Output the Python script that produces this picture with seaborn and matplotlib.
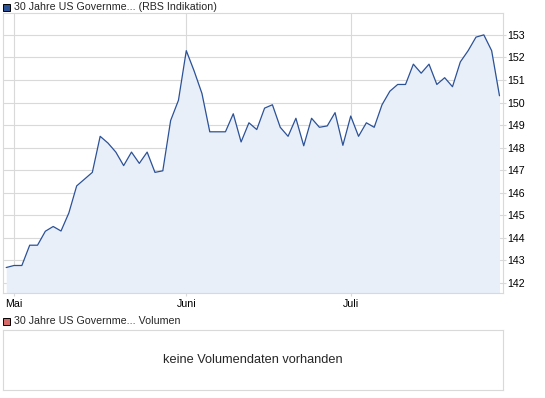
import numpy as np
import pandas as pd
import matplotlib
matplotlib.use("Agg")
import matplotlib.pyplot as plt
from matplotlib.patches import Rectangle
import seaborn as sns

# daily prices, 30 Jahre US Government (RBS Indikation), end of April to end of July
prices = [142.68, 142.77, 142.77, 143.67, 143.67, 144.29, 144.50, 144.30, 145.10, 146.30,
          146.60, 146.90, 148.50, 148.20, 147.80, 147.20, 147.80, 147.30, 147.80, 146.90,
          146.97, 149.20, 150.10, 152.30, 151.40, 150.40, 148.70, 148.70, 148.70, 149.50,
          148.25, 149.10, 148.80, 149.75, 149.90, 148.90, 148.50, 149.30, 148.08, 149.30,
          148.90, 148.96, 149.55, 148.10, 149.40, 148.50, 149.10, 148.90, 149.90, 150.50,
          150.80, 150.80, 151.70, 151.30, 151.70, 150.80, 151.10, 150.70, 151.80, 152.30,
          152.90, 153.00, 152.30, 150.30]
month_labels = ["Mai", "Juni", "Juli"]
month_pos = [1, 23, 44]  # index of first trading day in each month
y_ticks = list(range(142, 154))

df = pd.DataFrame({"idx": np.arange(len(prices)), "price": prices})

sns.set_style("white")
plt.rcParams["font.family"] = ["Liberation Sans", "DejaVu Sans"]

W, H = 545, 398
fig = plt.figure(figsize=(W / 100, H / 100), dpi=100)

def frac(x0, y0, x1, y1):
    return [x0 / W, 1 - y1 / H, (x1 - x0) / W, (y1 - y0) / H]

grid_c = "#d9d9d9"
line_c = "#2b5197"
fill_c = "#e8eff9"

# main price panel
ax = fig.add_axes(frac(3, 13, 503, 293))
ymin, ymax = 141.55, 153.97
ax.fill_between(df["idx"], df["price"], ymin, color=fill_c, lw=0, zorder=1)
sns.lineplot(data=df, x="idx", y="price", ax=ax, color=line_c, lw=0.9, zorder=3)
ax.set_xlim(-0.41, 63.45)
ax.set_ylim(ymin, ymax)
ax.set_xticks(month_pos)
ax.set_xticklabels(month_labels)
ax.set_yticks(y_ticks)
ax.yaxis.tick_right()
ax.grid(True, color=grid_c, lw=0.8, zorder=0)
ax.set_axisbelow(True)
for s in ax.spines.values():
    s.set_color(grid_c)
    s.set_linewidth(0.8)
ax.tick_params(axis="y", which="both", right=True, left=False, length=2.2,
               width=0.8, color=grid_c, pad=1, labelsize=7.7, labelcolor="black")
ax.tick_params(axis="x", which="both", bottom=True, length=2.2, width=0.8,
               color=grid_c, pad=2, labelsize=7.7, labelcolor="black")
ax.set_xlabel("")
ax.set_ylabel("")

# header legend entries
fig.patches.append(Rectangle((3 / W, 1 - 11 / H), 7 / W, 7 / H, transform=fig.transFigure,
                             facecolor="#2b5197", edgecolor="black", lw=0.7))
fig.text(14 / W, 1 - 7.5 / H, "30 Jahre US Governme... (RBS Indikation)",
         fontsize=7.7, va="center", ha="left")

fig.patches.append(Rectangle((3 / W, 1 - 325 / H), 7 / W, 7 / H, transform=fig.transFigure,
                             facecolor="#d86a6a", edgecolor="black", lw=0.7))
fig.text(14 / W, 1 - 321.5 / H, "30 Jahre US Governme... Volumen",
         fontsize=7.7, va="center", ha="left")

# empty volume panel
ax2 = fig.add_axes(frac(3, 330, 503, 390))
ax2.set_xticks([])
ax2.set_yticks([])
for s in ax2.spines.values():
    s.set_color(grid_c)
    s.set_linewidth(0.8)
ax2.text(0.5, 0.5, "keine Volumendaten vorhanden", transform=ax2.transAxes,
         ha="center", va="center", fontsize=9.2)

fig.savefig("out.png", dpi=100)
plt.close(fig)
